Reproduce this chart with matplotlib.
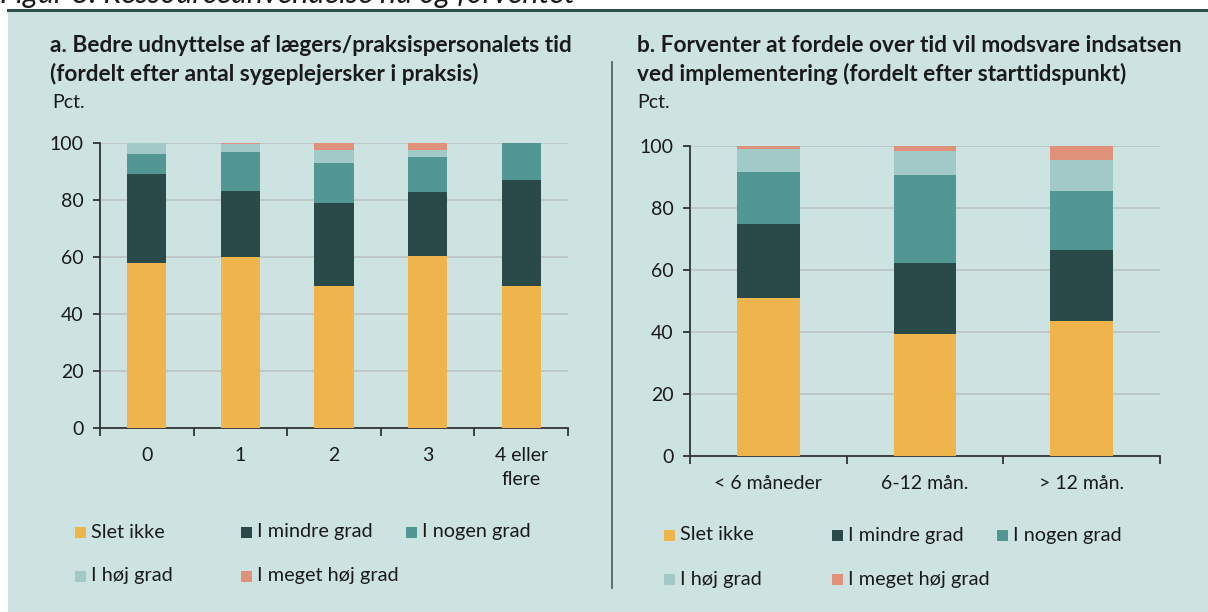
import matplotlib
matplotlib.use('Agg')
import matplotlib.pyplot as plt
import numpy as np
from matplotlib.patches import Rectangle
from matplotlib.lines import Line2D

plt.rcParams['font.family'] = ['Lato', 'DejaVu Sans']

# Data (percent)
series = ['Slet ikke', 'I mindre grad', 'I nogen grad', 'I høj grad', 'I meget høj grad']
colors = ['#f0b44c', '#2a4a4a', '#529794', '#a0c9c8', '#e0917a']

# a. by number of nurses in the practice
cats_a = ['0', '1', '2', '3', '4 eller\nflere']
slet_a = [58, 60, 50, 60.5, 50]
mindre_a = [31, 23, 29, 22.3, 37]
nogen_a = [7, 14, 14, 12.2, 13]
hoej_a = [4, 2.5, 4.7, 2.7, 0]
meget_a = [0, 0.5, 2.3, 2.3, 0]

# b. by start time
cats_b = ['< 6 måneder', '6-12 mån.', '> 12 mån.']
slet_b = [51, 39.4, 43.5]
mindre_b = [24, 22.7, 23.1]
nogen_b = [16.5, 28.6, 19.0]
hoej_b = [7.4, 7.7, 9.9]
meget_b = [1.1, 1.6, 4.5]

title_a = 'a. Bedre udnyttelse af lægers/praksispersonalets tid\n(fordelt efter antal sygeplejersker i praksis)'
title_b = 'b. Forventer at fordele over tid vil modsvare indsatsen\nved implementering (fordelt efter starttidspunkt)'

bg = '#cde3e1'
txt = '#1a1a1a'

W, H = 1208, 612
fig = plt.figure(figsize=(W / 100, H / 100), dpi=100)
fig.patch.set_facecolor('white')

# teal panel + top rule
fig.add_artist(Rectangle((8 / W, 0), 1, (H - 11) / H, transform=fig.transFigure,
                         facecolor=bg, edgecolor='none', zorder=0))
fig.add_artist(Line2D([8 / W, 1], [(H - 10) / H] * 2, transform=fig.transFigure,
                      color='#2f4f4d', lw=2.2))
# figure heading, cut off by the top edge as in the source
fig.text(0 / W, (H - 3) / H, 'Figur 8. Ressourceanvendelse nu og forventet',
         fontsize=22, style='italic', color=txt, va='baseline', ha='left')

# separator between panels
fig.add_artist(Line2D([612 / W] * 2, [(H - 62) / H, (H - 588) / H], transform=fig.transFigure,
                      color='#4f6968', lw=1.3))


def draw_panel(rect, cats, stacks, bar_w):
    ax = fig.add_axes(rect)
    ax.set_facecolor(bg)
    x = np.arange(len(cats))
    bottom = np.zeros(len(cats))
    for vals, c in zip(stacks, colors):
        vals = np.array(vals, dtype=float)
        ax.bar(x, vals, bar_w, bottom=bottom, color=c, edgecolor='none', zorder=3)
        bottom += vals
    ax.set_xlim(-0.5, len(cats) - 0.5)
    ax.set_ylim(0, 100)
    ax.set_yticks(range(0, 101, 20))
    ax.yaxis.grid(True, color='#bcc3c3', lw=1.2, zorder=0)
    ax.set_axisbelow(True)
    for s in ['top', 'right']:
        ax.spines[s].set_visible(False)
    for s in ['left', 'bottom']:
        ax.spines[s].set_color('#333333')
        ax.spines[s].set_linewidth(1.3)
    ax.set_xticks(x)
    ax.set_xticklabels(cats, fontsize=14, color=txt, linespacing=1.45)
    ax.set_xticks(np.arange(-0.5, len(cats)), minor=True)
    ax.tick_params(axis='x', which='major', length=0, pad=14)
    ax.tick_params(axis='x', which='minor', length=6, width=1.3, color='#333333', direction='out')
    ax.tick_params(axis='y', length=5, width=1.3, color='#333333', pad=7, labelsize=14,
                   labelcolor=txt)
    return ax


ax_a = draw_panel([100 / W, (H - 428) / H, 468 / W, 285 / H], cats_a,
                  [slet_a, mindre_a, nogen_a, hoej_a, meget_a], 0.42)
ax_b = draw_panel([690 / W, (H - 456) / H, 470 / W, 310 / H], cats_b,
                  [slet_b, mindre_b, nogen_b, hoej_b, meget_b], 0.40)

# titles and unit labels
fig.text(50 / W, (H - 35) / H, title_a, fontsize=16.3, fontweight='bold', color=txt,
         va='top', ha='left', linespacing=1.38)
fig.text(637 / W, (H - 35) / H, title_b, fontsize=16.3, fontweight='bold', color=txt,
         va='top', ha='left', linespacing=1.38)
fig.text(52 / W, (H - 103) / H, 'Pct.', fontsize=14, color=txt, va='center', ha='left')
fig.text(637 / W, (H - 103) / H, 'Pct.', fontsize=14, color=txt, va='center', ha='left')


# legends (Excel-style fixed column grid)
def draw_legend(col_x, row_y):
    for i, (lab, c) in enumerate(zip(series, colors)):
        px = col_x[i % 3]
        py = row_y[i // 3]
        fig.add_artist(Rectangle((px / W, (H - py - 5.5) / H), 11 / W, 11 / H,
                                 transform=fig.transFigure, facecolor=c, edgecolor='none'))
        fig.text((px + 16) / W, (H - py) / H, lab, fontsize=14.3, color=txt,
                 va='center', ha='left')


draw_legend([75, 241, 406], [532, 576])
draw_legend([664, 832, 997], [535, 579])

plt.savefig('out.png', dpi=100, facecolor=fig.get_facecolor())
